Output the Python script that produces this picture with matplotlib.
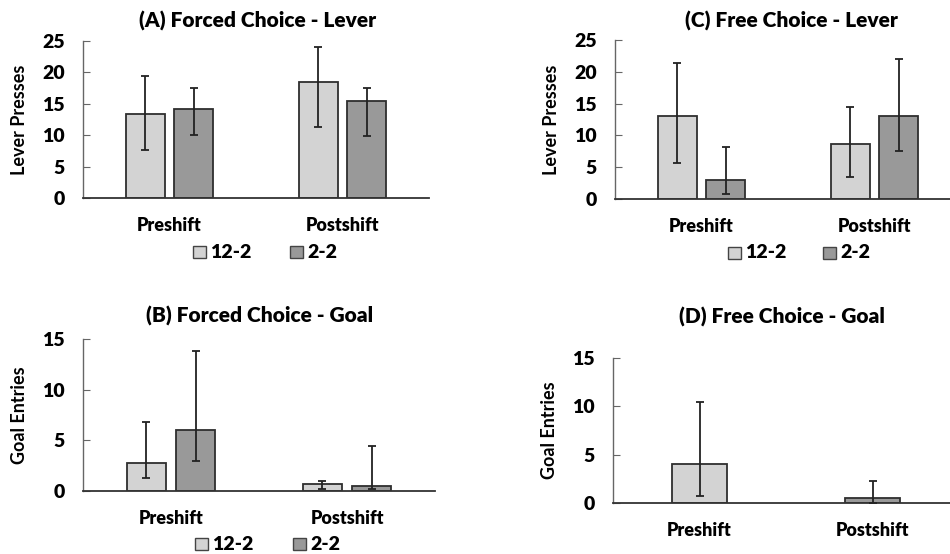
import numpy as np
import matplotlib.pyplot as plt

plt.rcParams['font.family'] = ['Lato', 'DejaVu Sans']

groups = ["Preshift", "Postshift"]
series = ["12-2", "2-2"]
light = "#d3d3d3"
dark = "#999999"
edge = "#2e2e2e"

# (A) forced choice - lever presses: means, error-bar lows and highs
a_12 = [13.4, 18.5]
a_12_lo = [7.7, 11.3]
a_12_hi = [19.4, 24.0]
a_22 = [14.1, 15.5]
a_22_lo = [10.0, 9.9]
a_22_hi = [17.5, 17.5]

# (B) forced choice - goal entries
b_12 = [2.8, 0.66]
b_12_lo = [1.3, 0.23]
b_12_hi = [6.85, 1.0]
b_22 = [6.0, 0.5]
b_22_lo = [3.0, 0.2]
b_22_hi = [13.85, 4.45]

# (C) free choice - lever presses
c_12 = [13.0, 8.6]
c_12_lo = [5.7, 3.5]
c_12_hi = [21.4, 14.5]
c_22 = [3.0, 13.0]
c_22_lo = [0.8, 7.5]
c_22_hi = [8.1, 22.0]

# (D) free choice - goal entries (one bar per phase)
d_vals = [4.0, 0.55]
d_lo = [0.72, 0.0]
d_hi = [10.5, 2.3]
d_colors = [light, dark]

W, H = 950, 554
fig = plt.figure(figsize=(W / 100, H / 100), dpi=100)


def make_axes(left, top, right, bottom):
    return fig.add_axes([left / W, 1 - bottom / H, (right - left) / W, (bottom - top) / H])


def style_axes(ax, ymax, step, ylabel, title, title_xy):
    ax.set_xlim(-0.5, 1.5)
    ax.set_ylim(0, ymax)
    ax.set_yticks(np.arange(0, ymax + 1, step))
    for s in ["top", "right"]:
        ax.spines[s].set_visible(False)
    ax.spines["left"].set_color("#666666")
    ax.spines["bottom"].set_color("#333333")
    ax.spines["left"].set_linewidth(1.0)
    ax.spines["bottom"].set_linewidth(1.3)
    ax.tick_params(axis="y", direction="in", length=5, color="#666666",
                   pad=13, labelsize=14)
    ax.tick_params(axis="x", length=0, pad=14, labelsize=13)
    for lab in ax.get_yticklabels() + ax.get_xticklabels():
        lab.set_fontweight("heavy")
    ax.set_xticks([0, 1])
    ax.set_xticklabels(groups, fontweight="heavy")
    ax.set_ylabel(ylabel, fontsize=13, fontweight="bold", labelpad=10)
    fig.text(title_xy[0] / W, 1 - title_xy[1] / H, title, ha="center",
             va="center", fontsize=15, fontweight="heavy")


def paired_bars(ax, v12, lo12, hi12, v22, lo22, hi22):
    x = np.arange(len(groups))
    w, off = 0.225, 0.14
    for vals, lo, hi, col, dx in [(v12, lo12, hi12, light, -off),
                                  (v22, lo22, hi22, dark, off)]:
        vals = np.array(vals)
        yerr = [vals - np.array(lo), np.array(hi) - vals]
        ax.bar(x + dx, vals, width=w, color=col, edgecolor=edge, linewidth=1.3, zorder=2)
        ax.errorbar(x + dx, vals, yerr=yerr, fmt="none", ecolor="#222222",
                    elinewidth=1.3, capsize=3, capthick=1.3, zorder=3)


def legend_row(y, x_light, x_dark):
    for xp, col, lab in [(x_light, light, "12-2"), (x_dark, dark, "2-2")]:
        fig.patches.append(plt.Rectangle((xp / W, 1 - (y + 6) / H), 13 / W, 12 / H,
                                         transform=fig.transFigure, facecolor=col,
                                         edgecolor="#444444", linewidth=1.0))
        fig.text((xp + 17) / W, 1 - y / H, lab, ha="left", va="center",
                 fontsize=14, fontweight="heavy")


axA = make_axes(83, 41, 429, 198)
paired_bars(axA, a_12, a_12_lo, a_12_hi, a_22, a_22_lo, a_22_hi)
style_axes(axA, 25, 5, "Lever Presses", "(A) Forced Choice - Lever", (258, 21))
legend_row(252, 193, 290)

axC = make_axes(615, 40, 961, 199)
paired_bars(axC, c_12, c_12_lo, c_12_hi, c_22, c_22_lo, c_22_hi)
style_axes(axC, 25, 5, "Lever Presses", "(C) Free Choice - Lever", (791, 21))
legend_row(253, 728, 823)

axB = make_axes(83, 339, 435, 491)
paired_bars(axB, b_12, b_12_lo, b_12_hi, b_22, b_22_lo, b_22_hi)
style_axes(axB, 15, 5, "Goal Entries", "(B) Forced Choice - Goal", (260, 316))
legend_row(544, 195, 293)

axD = make_axes(613, 358, 959, 503)
dv = np.array(d_vals)
axD.bar(np.arange(2), dv, width=0.316, color=d_colors, edgecolor=edge, linewidth=1.3, zorder=2)
axD.errorbar(np.arange(2), dv, yerr=[dv - np.array(d_lo), np.array(d_hi) - dv], fmt="none",
             ecolor="#222222", elinewidth=1.3, capsize=3, capthick=1.3, zorder=3)
style_axes(axD, 15, 5, "Goal Entries", "(D) Free Choice - Goal", (782, 317))

fig.savefig("out.png", dpi=100)
